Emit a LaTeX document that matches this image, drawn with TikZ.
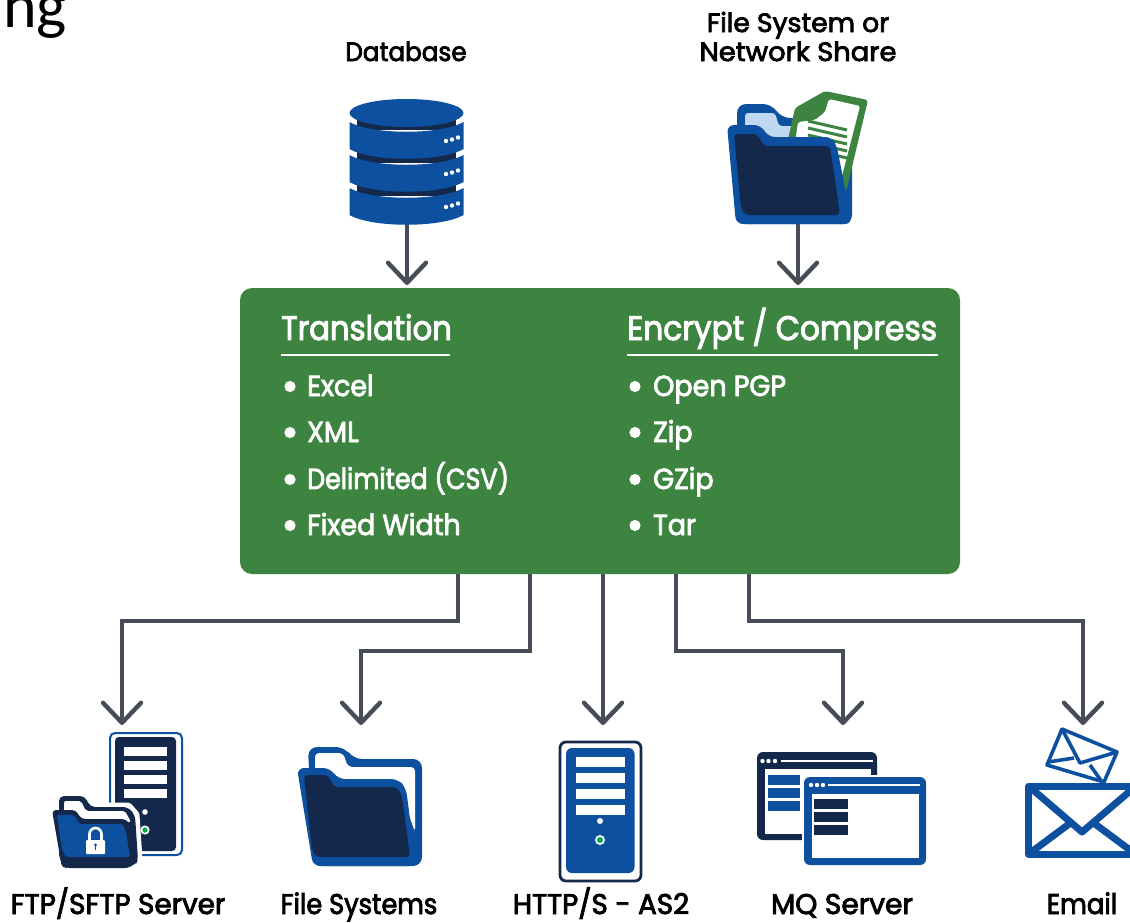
\documentclass[tikz,border=0pt]{standalone}
\usepackage{fontspec}
\usepackage{graphicx}
\usetikzlibrary{arrows.meta}
\setmainfont{Carlito}
\newfontfamily\labfont{Poppins}[FakeStretch=0.93,FakeBold=2.8]
\definecolor{gbox}{HTML}{3D8440}
\definecolor{bl}{HTML}{0D50A0}
\definecolor{dk}{HTML}{14284B}
\definecolor{lb}{HTML}{BFD7EF}
\definecolor{arr}{HTML}{464D57}
\definecolor{led}{HTML}{0BA54C}
\tikzset{
  flow/.style={draw=arr,line width=4.4pt,line join=miter,-{Straight Barb[length=20pt,width=38pt,line width=4.4pt,round]}},
  toplab/.style={anchor=base,text=black,inner sep=0pt,font=\labfont\fontsize{26.5}{26.5}\selectfont},
  lab/.style={anchor=base,text=black,inner sep=0pt,font=\labfont\fontsize{28.5}{28.5}\selectfont},
  head/.style={anchor=base west,text=white,inner sep=0pt,font=\labfont\fontsize{34}{34}\selectfont},
  item/.style={anchor=base west,text=white,inner sep=0pt,font=\labfont\fontsize{29}{29}\selectfont},
  bulletdot/.style={fill=white,draw=none},
  rule/.style={draw=white,line width=1.6pt},
  icon/.style={inner sep=0pt,draw=none,fill=none},
}
\newcommand{\dblayer}[1]{%
  \fill[dk] (357,#1-10) rectangle (456,#1+8);
  \fill[bl] (349.5,#1) .. controls (372,#1+13) and (441,#1+13) .. (463.5,#1) -- (463.5,#1+27)
     .. controls (441,#1+40) and (372,#1+40) .. (349.5,#1+27) -- cycle;
  \fill[white] (446,#1+19) circle (2.2) (452,#1+17.5) circle (2.2) (458,#1+15.5) circle (2.2);
}
\begin{document}
\begin{tikzpicture}[x=1pt,y=-1pt]
\useasboundingbox (0,0) rectangle (1130,922);
\clip (0,0) rectangle (1130,922);
\fill[white] (0,0) rectangle (1130,922);

\node[anchor=base west,inner sep=0pt,font=\fontsize{64}{64}\selectfont] (cut) at (3,27) {ng};

% top labels
\node[toplab] (ldb) at (406,61) {Database};
\node[toplab] (lfs1) at (798,32) {\scalebox{1.08}[1]{File System or}};
\node[toplab] (lfs2) at (798,61) {\scalebox{1.11}[1]{Network Share}};

% green box
\node[icon,fill=gbox,rounded corners=12pt,minimum width=720pt,minimum height=286pt] (box) at (600,431) {};
\node[head] (h1) at (281,340) {\scalebox{0.97}[1]{Translation}};
\node[head] (h2) at (627,340) {\scalebox{0.99}[1]{Encrypt / Compress}};
\draw[rule] (281,355) -- (450,355);
\draw[rule] (627,355) -- (938,355);
\foreach \y/\a/\b [count=\i] in {396/Excel/Open PGP,442/XML/Zip,489/\scalebox{0.94}[1]{Delimited (CSV)}/GZip,535/Fixed Width/Tar}{
  \fill[bulletdot] (290,\y-9.5) circle (5.6);
  \fill[bulletdot] (635,\y-9.5) circle (5.6);
  \node[item] (a\i) at (307,\y) {\a};
  \node[item] (b\i) at (653,\y) {\b};
}

% connector ends
\coordinate (dbout) at (407,224);
\coordinate (fsout) at (798,224);
\coordinate (dbin) at (407,285);
\coordinate (fsin) at (798,285);
\coordinate (o1) at (458,574);
\coordinate (o2) at (530,574);
\coordinate (o3) at (603,574);
\coordinate (o4) at (676,574);
\coordinate (o5) at (749,574);
\coordinate (t1) at (122,725);
\coordinate (t2) at (361,725);
\coordinate (t3) at (603,725);
\coordinate (t4) at (843,725);
\coordinate (t5) at (1083,725);

\draw[flow] (dbout) -- (dbin);
\draw[flow] (fsout) -- (fsin);
\draw[flow] (o1) -- (458,621) -- (122,621) -- (t1);
\draw[flow] (o2) -- (530,651) -- (361,651) -- (t2);
\draw[flow] (o3) -- (t3);
\draw[flow] (o4) -- (676,651) -- (843,651) -- (t4);
\draw[flow] (o5) -- (749,621) -- (1083,621) -- (t5);

% database icon
\dblayer{188}
\dblayer{155}
\dblayer{122}
\fill[bl] (406.5,113) ellipse (57 and 14);

% top folder + document
\fill[bl,rounded corners=9pt] (737,224) -- (737,104) -- (772,104) -- (781,118) -- (852,118) -- (852,224) -- cycle;
\fill[lb,rounded corners=3pt] (745,150) -- (745,113) -- (775,113) -- (779,126) -- (795,126) -- (795,150) -- cycle;
\fill[gbox,rounded corners=3pt] (825,91) -- (868,100) -- (846,192) -- (780,180) -- (789,135) -- (795,108) -- cycle;
\fill[white,rounded corners=2pt] (829,99) -- (860,106) -- (842,176) -- (792,165) -- (798,122) -- (815,120) -- (825,112) -- cycle;
\foreach \d in {0,7,14,21,28}{ \draw[gbox,line width=3pt] (808,121+\d) -- (847,130+\d); }
\fill[bl,rounded corners=7pt] (727,125) -- (761,125) -- (768,137) -- (832,137) -- (837,147) -- (852,224) -- (736,224) -- cycle;
\fill[dk,rounded corners=4pt] (734,134) -- (757,134) -- (764,146) -- (830,146) -- (840,215) -- (745,215) -- (741,208) -- cycle;

% FTP server
\draw[bl,line width=2pt,rounded corners=5pt] (110,733) rectangle (182,855);
\fill[dk,rounded corners=4pt] (115,737) rectangle (176,851);
\foreach \y in {747,761,775,789}{ \fill[white] (123.5,\y) rectangle (167,\y+9); }
\fill[white] (145,812) circle (2.8);
\fill[white] (145,830) circle (4.6);
\fill[led] (145,830) circle (2.6);
\draw[white,fill=white,line width=9pt,line join=round] (59,796) -- (85,796) -- (90,807) -- (128,807) -- (135,815) -- (138,860) -- (130,868) -- (66,868) -- (52,810) -- cycle;
\fill[dk,rounded corners=5pt] (59,796) -- (85,796) -- (90,807) -- (128,807) -- (135,815) -- (138,860) -- (130,868) -- (66,868) -- (59,858) -- cycle;
\fill[white,rounded corners=2pt] (64,801) -- (81,801) -- (86,811) -- (125,811) -- (131,822) -- (64,822) -- cycle;
\fill[dk,rounded corners=4pt] (52,810) -- (76,810) -- (81,819) -- (126,819) -- (134,830) -- (138,864) -- (62,868) -- cycle;
\fill[bl,rounded corners=2pt] (57,815) -- (74,815) -- (79,824) -- (123,824) -- (126,832) -- (130,857) -- (66,857) -- (62,850) -- cycle;
\draw[white,line width=2.6pt] (89.5,841) -- (89.5,834) arc[start angle=180,delta angle=180,radius=6] -- (101.5,841);
\fill[white,rounded corners=1pt] (86,840) rectangle (105,854);
\fill[bl] (95.5,845) circle (1.6);
\fill[bl] (94.8,845) rectangle (96.2,850);

% File systems folder
\fill[bl,rounded corners=9pt] (313,866) -- (308,747) -- (345,747) -- (353,759) -- (422,759) -- (422,866) -- cycle;
\fill[white,rounded corners=4pt] (315,790) -- (315,753) -- (343,753) -- (348,767) -- (415,767) -- (415,832) -- (400,790) -- cycle;
\fill[bl,rounded corners=7pt] (297,768) -- (330,768) -- (338,779) -- (398,779) -- (406,788) -- (416,866) -- (313,866) -- cycle;
\fill[dk,rounded corners=4pt] (304,775) -- (328,775) -- (334,787) -- (397,787) -- (402,796) -- (410,857) -- (316,857) -- (312,850) -- cycle;

% HTTP server
\draw[dk,line width=2.8pt,rounded corners=6pt] (560,742) rectangle (641,881);
\fill[bl,rounded corners=6pt] (566,748) rectangle (634.5,873);
\foreach \y in {757,773,789,805}{ \fill[white] (576,\y) rectangle (624.5,\y+10); }
\fill[white] (600,821) circle (3);
\fill[white] (600,840) circle (5);
\fill[led] (600,840) circle (3);

% MQ windows
\fill[dk,rounded corners=6pt] (757,840) -- (757,752) -- (877,752) -- (877,785) -- (877,840) -- cycle;
\fill[white] (765,769) rectangle (871,834);
\fill[white] (762.5,761) circle (2.2) (768.5,761) circle (2.2) (775,761) circle (2.2);
\draw[white,line width=1.6pt] (781,761) -- (873,761);
\foreach \y in {775,788,801}{ \fill[bl] (768,\y) rectangle (800,\y+10); }
\fill[white] (802,775) rectangle (928,867);
\fill[bl,rounded corners=6pt] (804,865) -- (804,777) -- (926,777) -- (926,865) -- cycle;
\fill[white] (812,794) rectangle (919,858);
\fill[white] (811,785) circle (2.2) (817,785) circle (2.2) (823,785) circle (2.2);
\draw[white,line width=1.6pt] (828,785) -- (920,785);
\foreach \y in {799,812,825}{ \fill[dk] (814,\y) rectangle (848,\y+10); }

% Email
\draw[bl,line width=3.6pt,line join=round] (1062,729) -- (1117,752) -- (1104,782) -- (1047,765) -- cycle;
\draw[bl,line width=3.6pt,line join=round] (1062,729) -- (1080,763) -- (1117,752);
\draw[bl,line width=3.6pt] (1048,762) -- (1074,758);
\draw[bl,line width=3.6pt] (1090,765) -- (1102,782);
\draw[bl,line width=7pt,line join=round,fill=white] (1028.5,786) rectangle (1150,854);
\draw[bl,line width=7pt,line join=round] (1028.5,786) -- (1082,832) -- (1136,786);
\draw[bl,line width=7pt] (1030,853) -- (1069,824);
\draw[bl,line width=7pt] (1134,853) -- (1095,824);

% bottom labels
\node[lab] (l1) at (118,914) {\scalebox{1.05}[1]{FTP/SFTP Server}};
\node[lab] (l2) at (359,914) {\scalebox{0.97}[1]{File Systems}};
\node[lab] (l3) at (601,914) {\scalebox{1.05}[1]{HTTP/S - AS2}};
\node[lab] (l4) at (842,914) {\scalebox{1.06}[1]{MQ Server}};
\node[lab] (l5) at (1082,914) {\scalebox{0.98}[1]{Email}};
\end{tikzpicture}
\end{document}
